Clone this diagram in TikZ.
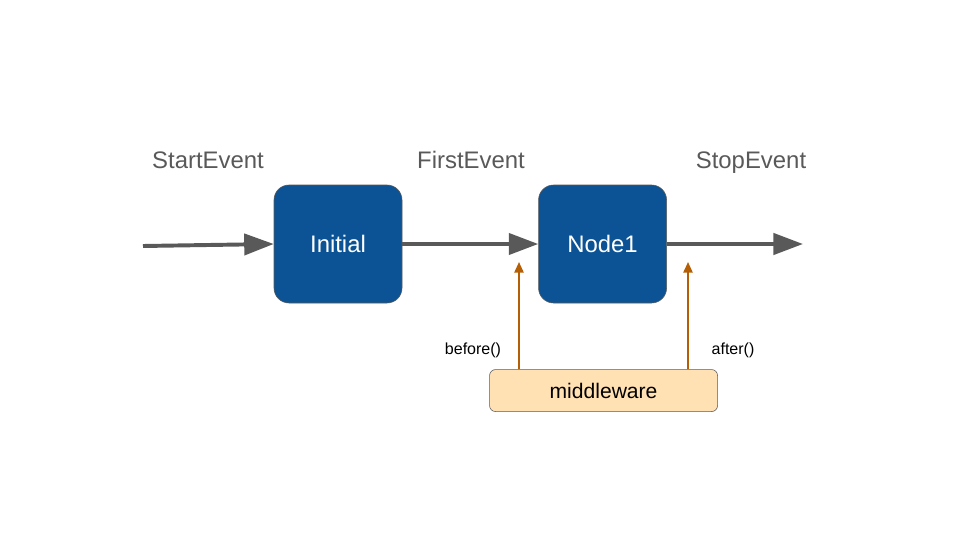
\documentclass[tikz,border=0pt]{standalone}
\usepackage{fontspec}
\setmainfont{Liberation Sans}
\usepackage{tikz}
\usetikzlibrary{arrows.meta, positioning}
\definecolor{boxblue}{HTML}{0B5394}
\definecolor{flowgrey}{HTML}{595959}
\definecolor{hookorange}{HTML}{B45F06}
\definecolor{mwfill}{HTML}{FFE1B4}

\begin{document}
\begin{tikzpicture}[
  stepbox/.style={draw=flowgrey, fill=boxblue, rounded corners=0.375cm,
                  minimum width=3.2cm, minimum height=2.95cm,
                  text=white, font=\fontsize{17}{20}\selectfont},
  mwbox/.style={draw=flowgrey, fill=mwfill, rounded corners=0.15cm,
                minimum width=5.7cm, minimum height=1.05cm,
                font=\fontsize{15}{18}\selectfont},
  evlabel/.style={text=flowgrey, font=\fontsize{17}{20}\selectfont,
                  text height=0.75em, text depth=0.2em},
  hooklabel/.style={font=\fontsize{11.4}{13}\selectfont},
  flow/.style={-{Triangle[length=21pt, width=15pt]}, line width=2.8pt, draw=flowgrey},
  hook/.style={-{Triangle[length=7.5pt, width=6.5pt]}, line width=1.3pt, draw=hookorange},
  node distance=3.4cm
]
  \useasboundingbox (0,0) rectangle (24,13.5);

  \node[stepbox] (ini) at (8.45,7.4) {Initial};
  \node[stepbox, right=of ini] (nd1) {Node1};
  \node[mwbox, below=1.65cm of nd1, xshift=0.025cm] (mw) {middleware};

  \node[evlabel] (startev) at (5.2,9.375)    {StartEvent};
  \node[evlabel] (firstev) at (11.775,9.375) {FirstEvent};
  \node[evlabel] (stopev)  at (18.775,9.375) {StopEvent};

  \node[hooklabel] (beforel) at (11.825,4.75) {before()};
  \node[hooklabel] (afterl)  at (18.325,4.75) {after()};

  \coordinate (src) at (3.575,7.35);
  \coordinate (snk) at (20.075,7.4);
  \coordinate (bf) at (12.975,6.95);
  \coordinate (af) at (17.2,6.95);

  \draw[flow] (src) -- (ini.west);
  \draw[flow] (ini) -- (nd1);
  \draw[flow] (nd1.east) -- (snk);

  \draw[hook] (mw.north -| bf) -- (bf);
  \draw[hook] (mw.north -| af) -- (af);
\end{tikzpicture}
\end{document}
